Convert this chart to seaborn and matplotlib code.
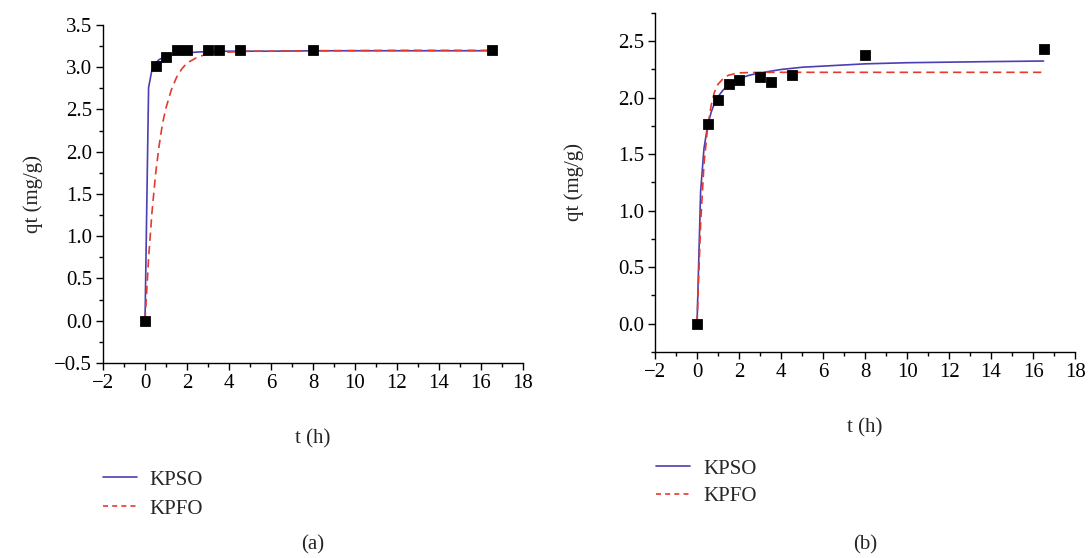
import numpy as np
import pandas as pd
import matplotlib
matplotlib.use("Agg")
import matplotlib.pyplot as plt
from matplotlib.ticker import MultipleLocator, FuncFormatter
from matplotlib.lines import Line2D
import seaborn as sns

# experimental points (same sampling times in both panels)
t_exp = [0, 0.5, 1, 1.5, 2, 3, 3.5, 4.5, 8, 16.5]
q_exp_a = [0, 3.02, 3.12, 3.20, 3.20, 3.20, 3.20, 3.20, 3.21, 3.20]
q_exp_b = [0, 1.77, 1.98, 2.12, 2.16, 2.18, 2.14, 2.20, 2.38, 2.43]

# fitted curves
t_pso_a = [0, 0.17, 0.33, 0.5, 0.67, 0.83, 1.0, 1.33, 1.67, 2.0, 2.5, 3, 4, 5, 6, 8, 10, 12, 14, 16.5]
q_pso_a = [0, 2.76, 2.97, 3.05, 3.09, 3.11, 3.13, 3.15, 3.16, 3.17, 3.18, 3.185, 3.19, 3.19, 3.19,
           3.195, 3.195, 3.195, 3.195, 3.195]
t_pfo_a = [0, 0.17, 0.33, 0.5, 0.67, 0.83, 1.0, 1.25, 1.5, 1.75, 2.0, 2.5, 3.0, 3.5, 4, 5, 6, 8, 12, 16.5]
q_pfo_a = [0, 0.74, 1.28, 1.73, 2.07, 2.33, 2.52, 2.73, 2.88, 2.98, 3.05, 3.12, 3.16, 3.175, 3.18,
           3.19, 3.19, 3.195, 3.2, 3.2]

t_pso_b = [0, 0.17, 0.33, 0.5, 0.67, 0.83, 1.0, 1.25, 1.5, 2, 2.5, 3, 4, 5, 6, 8, 10, 12, 14, 16.5]
q_pso_b = [0, 1.17, 1.55, 1.75, 1.87, 1.95, 2.01, 2.07, 2.11, 2.17, 2.20, 2.22, 2.25, 2.27, 2.28,
           2.30, 2.31, 2.315, 2.32, 2.325]
t_pfo_b = [0, 0.17, 0.33, 0.5, 0.67, 0.83, 1.0, 1.25, 1.5, 1.75, 2, 2.5, 3, 4, 6, 8, 12, 16.5]
q_pfo_b = [0, 0.88, 1.41, 1.73, 1.93, 2.05, 2.12, 2.17, 2.20, 2.21, 2.22, 2.223, 2.225, 2.225,
           2.225, 2.225, 2.225, 2.225]

BLUE = "#4a3fb3"
RED = "#e53a2f"

sns.set_theme(style="ticks")
plt.rcParams["font.family"] = ["Liberation Serif", "DejaVu Serif"]
plt.rcParams["axes.unicode_minus"] = True

fig = plt.figure(figsize=(10.89, 5.58), dpi=100)
ax_a = fig.add_axes([0.0946, 0.3495, 0.3857, 0.6057])
ax_b = fig.add_axes([0.6015, 0.3692, 0.3857, 0.6075])

yfmt = FuncFormatter(lambda v, p: f"{v:.1f}".replace("-", "\u2212"))


def draw_panel(ax, q_exp, t_pso, q_pso, t_pfo, q_pfo, ylim, yticks):
    sns.lineplot(x=t_pso, y=q_pso, ax=ax, color=BLUE, lw=1.2, sort=False, estimator=None)
    sns.lineplot(x=t_pfo, y=q_pfo, ax=ax, color=RED, lw=1.2, sort=False, estimator=None,
                 linestyle=(0, (5, 3)))
    sns.scatterplot(x=t_exp, y=q_exp, ax=ax, marker="s", color="black", s=50,
                    edgecolor="black", zorder=5)
    ax.set_xlim(-2, 18)
    ax.set_ylim(*ylim)
    ax.set_xticks(np.arange(-2, 19, 2))
    ax.set_yticks(yticks)
    ax.xaxis.set_minor_locator(MultipleLocator(1))
    ax.yaxis.set_minor_locator(MultipleLocator(0.25))
    ax.yaxis.set_major_formatter(yfmt)
    for s in ["top", "right"]:
        ax.spines[s].set_visible(False)
    for s in ["left", "bottom"]:
        ax.spines[s].set_linewidth(1.0)
        ax.spines[s].set_color("black")
    ax.tick_params(which="major", direction="out", length=5, width=1, labelsize=15,
                   colors="black", pad=3)
    ax.tick_params(which="minor", direction="out", length=3, width=1, colors="black")
    ax.set_xlabel("t (h)", fontsize=15, labelpad=26)


draw_panel(ax_a, q_exp_a, t_pso_a, q_pso_a, t_pfo_a, q_pfo_a, (-0.5, 3.5),
           np.arange(-0.5, 3.51, 0.5))
ax_a.set_ylabel("qt (mg/g)", fontsize=15, labelpad=8)

draw_panel(ax_b, q_exp_b, t_pso_b, q_pso_b, t_pfo_b, q_pfo_b, (-0.25, 2.75),
           np.arange(0, 2.51, 0.5))
ax_b.set_ylabel("qt (mg/g)", fontsize=15, labelpad=24)

handles = [Line2D([], [], color=BLUE, lw=1.2),
           Line2D([], [], color=RED, lw=1.2, linestyle=(0, (3, 2.5)))]
labels = ["KPSO", "KPFO"]

fig.legend(handles, labels, loc="upper left", bbox_to_anchor=(103 / 1089, 1 - 470 / 558),
           frameon=False, fontsize=15, handlelength=1.65, handletextpad=0.6,
           labelspacing=0.45, borderpad=0, borderaxespad=0)
fig.legend(handles, labels, loc="upper left", bbox_to_anchor=(656 / 1089, 1 - 459 / 558),
           frameon=False, fontsize=15, handlelength=1.65, handletextpad=0.6,
           labelspacing=0.38, borderpad=0, borderaxespad=0)

fig.text(313 / 1089, 1 - 545 / 558, "(a)", ha="center", va="center", fontsize=15)
fig.text(865 / 1089, 1 - 545 / 558, "(b)", ha="center", va="center", fontsize=15)

fig.savefig("out.png", dpi=100)
